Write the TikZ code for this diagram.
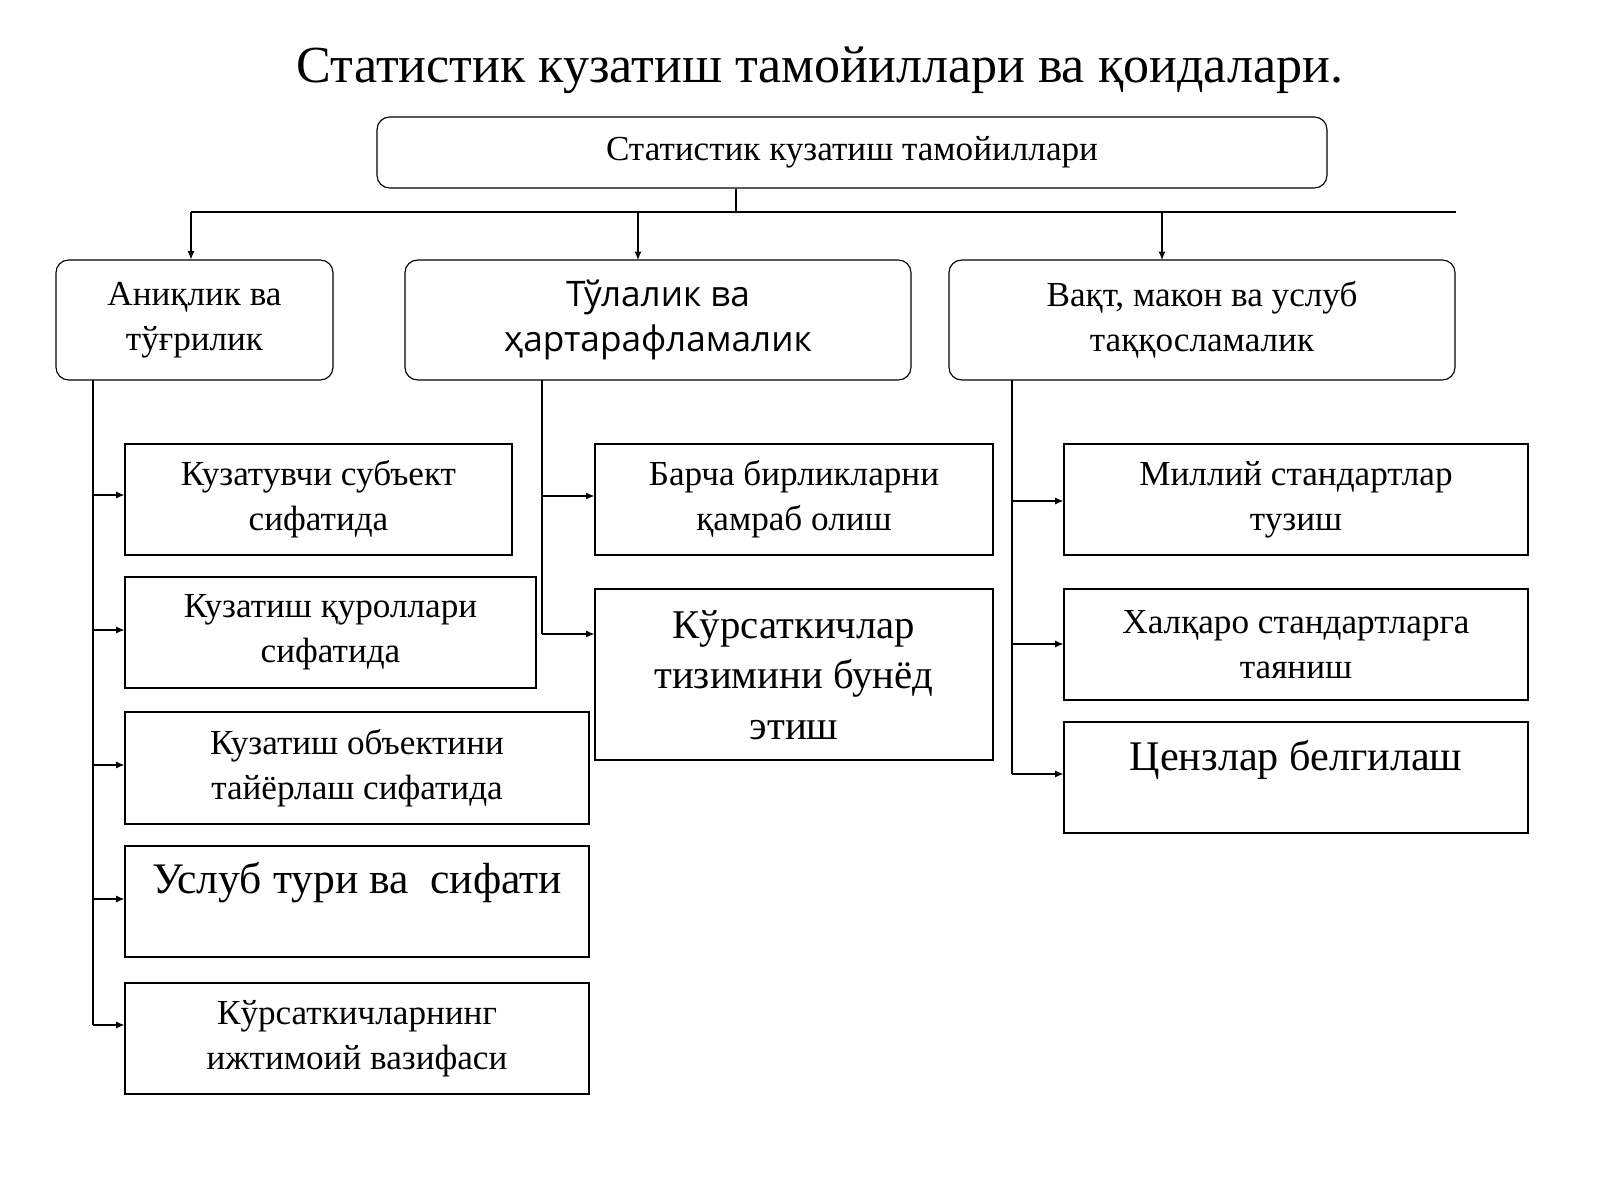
\documentclass[tikz,border=0pt]{standalone}
\usepackage{fontspec}
\setmainfont{Liberation Serif}
\newfontfamily\sansf{Open Sans}
\usetikzlibrary{arrows.meta, positioning}

\tikzset{
  head/.style={draw, thick, rounded corners=9pt, align=center, inner sep=0pt},
  leaf/.style={draw, thick, align=center, inner sep=0pt},
  link/.style={thick},
  arr/.style={thick, -{Latex[length=6pt,width=5pt]}}
}
\newcommand{\bx}[5]{\node[#1, minimum width={(#4-#2)*0.025cm}, minimum height={(#5-#3)*0.025cm}] at ({(#2+#4)/2},{(#3+#5)/2})}

\begin{document}
\begin{tikzpicture}[x=0.025cm, y=-0.025cm,
    font=\fontsize{25pt}{32pt}\selectfont]
  \useasboundingbox (0,0) rectangle (1600,1200);
  \node[font=\fontsize{37pt}{40pt}\selectfont] (title) at (820,70) {Статистик кузатиш тамойиллари ва қоидалари.};

  \bx{head}{377}{117}{1327}{188} (root) {Статистик кузатиш тамойиллари};
  \bx{head}{56}{260}{333}{380} (acc) {Аниқлик ва\\тўғрилик};
  \bx{head}{405}{260}{911}{380} (full) {\sansf Тўлалик ва\\\sansf ҳартарафламалик};
  \bx{head}{949}{260}{1455}{380} (cmp) {Вақт, макон ва услуб\\таққосламалик};

  % left branch
  \bx{leaf}{125}{444}{512}{555} (a1) {Кузатувчи субъект\\сифатида};
  \bx{leaf}{125}{577}{536}{688} (a2) {Кузатиш қуроллари\\сифатида};
  \bx{leaf}{125}{712}{589}{824} (a3) {Кузатиш объектини\\тайёрлаш сифатида};
  \bx{leaf}{125}{846}{589}{957} (a4) {};
  \node[font=\fontsize{31pt}{36pt}\selectfont] (a4t) at (357,883) {Услуб тури ва\ \ сифати};
  \bx{leaf}{125}{983}{589}{1094} (a5) {Кўрсаткичларнинг\\ижтимоий вазифаси};

  % middle branch
  \bx{leaf}{595}{444}{993}{555} (b1) {Барча бирликларни\\қамраб олиш};
  \bx{leaf}{595}{589}{993}{760} (b2) {};
  \node[font=\fontsize{29pt}{36pt}\selectfont, align=center] (b2t) at (794,675) {Кўрсаткичлар\\тизимини бунёд\\этиш};

  % right branch
  \bx{leaf}{1064}{444}{1528}{555} (c1) {Миллий стандартлар\\тузиш};
  \bx{leaf}{1064}{589}{1528}{700} (c2) {Халқаро стандартларга\\таяниш};
  \bx{leaf}{1064}{722}{1528}{833} (c3) {};
  \node[font=\fontsize{30pt}{36pt}\selectfont] (c3t) at (1296,760) {Цензлар белгилаш};

  % bus
  \coordinate (bus) at (736,212);
  \coordinate (busL) at (191,212);
  \coordinate (busR) at (1456,212);
  \draw[link] (root.south -| bus) -- (bus);
  \draw[link] (busL) -- (busR);
  \draw[arr] (busL) -- (busL |- acc.north);
  \draw[arr] (638,212) -- (638,260);
  \draw[arr] (1162,212) -- (1162,260);

  % spines
  \coordinate (sa) at (93,380);
  \coordinate (sb) at (542,380);
  \coordinate (sc) at (1012,380);
  \draw[link] (sa) -- (93,1025);
  \draw[link] (sb) -- (542,634);
  \draw[link] (sc) -- (1012,774);
  \foreach \n/\y in {a1/495,a2/630,a3/765,a4/899,a5/1025}
    \draw[arr] (93,\y) -- (\n.west |- 0,\y);
  \foreach \n/\y in {b1/496,b2/634}
    \draw[arr] (542,\y) -- (\n.west |- 0,\y);
  \foreach \n/\y in {c1/501,c2/644,c3/774}
    \draw[arr] (1012,\y) -- (\n.west |- 0,\y);
\end{tikzpicture}
\end{document}
